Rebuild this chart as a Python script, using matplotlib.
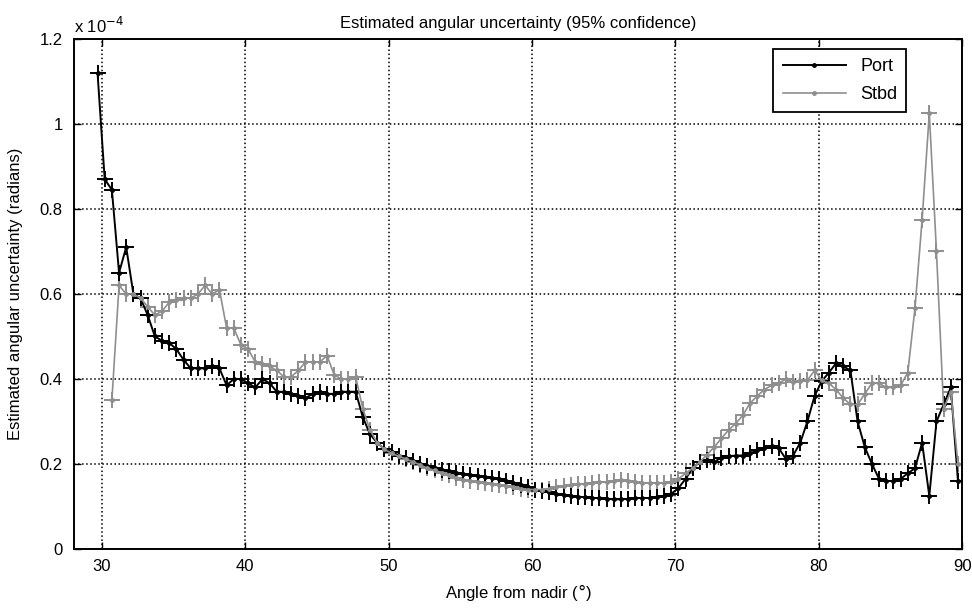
import numpy as np
import matplotlib
matplotlib.use("Agg")
import matplotlib.pyplot as plt
from matplotlib.ticker import FuncFormatter, MultipleLocator

plt.rcParams['font.family'] = ['Liberation Sans', 'DejaVu Sans']

# angle from nadir (deg), sampled every half degree
angle = 29.7 + 0.5 * np.arange(121)

# estimated angular uncertainty, in units of 1e-4 rad
port = [
    1.12, 0.87, 0.845, 0.65, 0.71, 0.60, 0.59, 0.55, 0.50, 0.49,
    0.485, 0.47, 0.445, 0.425, 0.425, 0.425, 0.43, 0.425, 0.385, 0.40,
    0.40, 0.39, 0.38, 0.40, 0.39, 0.37, 0.37, 0.365, 0.36, 0.355,
    0.365, 0.37, 0.365, 0.365, 0.37, 0.37, 0.37, 0.31, 0.27, 0.25,
    0.235, 0.228, 0.22, 0.215, 0.207, 0.20, 0.195, 0.19, 0.187, 0.183,
    0.18, 0.177, 0.175, 0.172, 0.17, 0.168, 0.165, 0.16, 0.155, 0.15,
    0.145, 0.14, 0.137, 0.133, 0.13, 0.127, 0.125, 0.123, 0.122, 0.12,
    0.12, 0.118, 0.117, 0.117, 0.118, 0.12, 0.12, 0.12, 0.122, 0.125,
    0.13, 0.143, 0.165, 0.19, 0.205, 0.21, 0.205, 0.215, 0.218, 0.22,
    0.22, 0.225, 0.232, 0.238, 0.242, 0.237, 0.212, 0.22, 0.25, 0.30,
    0.36, 0.395, 0.415, 0.437, 0.43, 0.42, 0.30, 0.24, 0.20, 0.165,
    0.16, 0.16, 0.165, 0.178, 0.19, 0.25, 0.125, 0.30, 0.34, 0.38,
    0.16,
]
stbd = [
    np.nan, np.nan, 0.35, 0.62, 0.60, 0.60, 0.59, 0.57, 0.55, 0.56,
    0.58, 0.585, 0.59, 0.59, 0.60, 0.62, 0.60, 0.61, 0.52, 0.52,
    0.48, 0.47, 0.44, 0.435, 0.43, 0.42, 0.405, 0.405, 0.42, 0.44,
    0.44, 0.44, 0.455, 0.41, 0.40, 0.40, 0.405, 0.33, 0.28, 0.25,
    0.235, 0.225, 0.218, 0.212, 0.205, 0.198, 0.19, 0.185, 0.18, 0.175,
    0.168, 0.163, 0.16, 0.157, 0.155, 0.152, 0.15, 0.148, 0.145, 0.142,
    0.14, 0.14, 0.14, 0.142, 0.145, 0.148, 0.15, 0.152, 0.153, 0.155,
    0.157, 0.158, 0.16, 0.162, 0.16, 0.158, 0.155, 0.155, 0.155, 0.155,
    0.158, 0.165, 0.178, 0.19, 0.205, 0.222, 0.24, 0.26, 0.28, 0.295,
    0.315, 0.343, 0.36, 0.375, 0.385, 0.39, 0.40, 0.393, 0.395, 0.397,
    0.42, 0.397, 0.39, 0.375, 0.355, 0.34, 0.34, 0.365, 0.39, 0.39,
    0.38, 0.38, 0.385, 0.415, 0.566, 0.775, 1.025, 0.70, 0.33, 0.37,
    0.20,
]

port_col = 'black'
stbd_col = '#8f8f8f'

fig = plt.figure(figsize=(9.72, 6.08), dpi=100)
ax = fig.add_axes([0.076, 0.097, 0.914, 0.839])

# cross markers at each sample, then the line with dots on top
ax.plot(angle, stbd, '+', color=stbd_col, ms=11, mew=1.4)
ax.plot(angle, port, '+', color=port_col, ms=11, mew=1.4)
l1, = ax.plot(angle, port, '-', marker='.', color=port_col, lw=1.4, ms=5)
l2, = ax.plot(angle, stbd, '-', marker='.', color=stbd_col, lw=1.2, ms=5)

ax.set_xlim(28.05, 90)
ax.set_ylim(0, 1.2)
ax.xaxis.set_major_locator(MultipleLocator(10))
ax.yaxis.set_major_locator(MultipleLocator(0.2))
ax.yaxis.set_major_formatter(FuncFormatter(lambda v, p: '%g' % round(v, 2)))

ax.grid(True, linestyle=':', color='black', linewidth=1.1)
ax.tick_params(direction='in', top=True, right=True, length=5, width=1,
               labelsize=12)
ax.tick_params(axis='y', pad=8)
ax.tick_params(axis='x', pad=7)
for s in ax.spines.values():
    s.set_linewidth(1.4)

ax.text(0.0, 1.005, r'x 10$^{-4}$', transform=ax.transAxes, fontsize=12,
        ha='left', va='bottom')
ax.set_title('Estimated angular uncertainty (95% confidence)', fontsize=12, pad=8)
ax.set_xlabel('Angle from nadir ($\\degree$)', fontsize=12, labelpad=6)
ax.set_ylabel('Estimated angular uncertainty (radians)', fontsize=12, labelpad=12)

leg = ax.legend([l1, l2], ['Port', 'Stbd'], loc='upper right',
                bbox_to_anchor=(0.937, 0.98), borderaxespad=0, fontsize=13,
                fancybox=False, framealpha=1, handlelength=3.5,
                labelspacing=0.6, borderpad=0.5)
leg.get_frame().set_edgecolor('black')
leg.get_frame().set_linewidth(1.3)

fig.savefig('out.png', dpi=100)
